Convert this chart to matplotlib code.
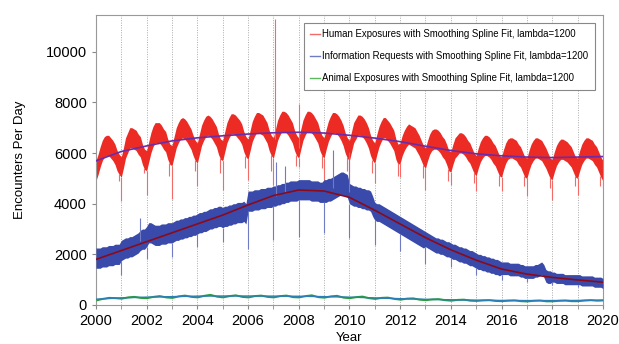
import numpy as np
import matplotlib.pyplot as plt

plt.rcParams['font.family'] = ['Liberation Sans', 'DejaVu Sans']

# Monthly mid-levels of daily encounters, one row per year (Jan..Dec), 2000-2019
human_mid = [
    [5300, 5550, 5850, 6100, 6250, 6300, 6300, 6200, 6100, 5950, 5700, 5550],
    [5450, 5800, 6200, 6400, 6600, 6600, 6550, 6500, 6350, 6250, 5950, 5750],
    [5700, 6050, 6400, 6650, 6800, 6800, 6800, 6700, 6550, 6450, 6150, 5950],
    [5900, 6250, 6600, 6800, 6950, 7000, 6950, 6850, 6700, 6550, 6300, 6100],
    [6000, 6350, 6700, 6900, 7050, 7100, 7050, 6950, 6800, 6650, 6350, 6150],
    [6100, 6450, 6800, 7000, 7150, 7150, 7100, 7000, 6900, 6750, 6450, 6250],
    [6150, 6500, 6850, 7050, 7200, 7200, 7150, 7100, 6950, 6800, 6500, 6300],
    [6200, 6550, 6900, 7100, 7250, 7250, 7200, 7100, 6950, 6800, 6500, 6300],
    [6200, 6550, 6900, 7100, 7250, 7250, 7200, 7100, 6950, 6800, 6500, 6300],
    [6200, 6550, 6850, 7050, 7200, 7200, 7150, 7050, 6900, 6700, 6400, 6200],
    [6100, 6450, 6800, 6950, 7100, 7100, 7050, 6950, 6800, 6600, 6300, 6100],
    [6000, 6350, 6650, 6850, 7000, 7000, 6900, 6800, 6650, 6500, 6150, 5950],
    [6000, 6300, 6500, 6650, 6750, 6700, 6650, 6600, 6450, 6300, 6100, 5900],
    [5800, 6100, 6350, 6500, 6550, 6550, 6500, 6400, 6250, 6150, 5950, 5700],
    [5650, 5950, 6200, 6300, 6400, 6400, 6350, 6250, 6100, 6000, 5800, 5600],
    [5500, 5800, 6050, 6200, 6300, 6300, 6250, 6150, 6000, 5900, 5700, 5500],
    [5450, 5750, 6000, 6150, 6200, 6200, 6150, 6100, 5950, 5850, 5650, 5450],
    [5400, 5700, 5950, 6100, 6200, 6200, 6150, 6100, 5950, 5800, 5600, 5400],
    [5350, 5650, 5900, 6050, 6150, 6150, 6100, 6050, 5950, 5850, 5650, 5450],
    [5400, 5700, 5950, 6100, 6200, 6200, 6150, 6100, 5950, 5850, 5650, 5450],
]
human_end = 5300

info_mid = [
    [1850, 1850, 1850, 1900, 1900, 1900, 1950, 1950, 1950, 2000, 2000, 2000],
    [2150, 2200, 2250, 2250, 2300, 2300, 2350, 2400, 2450, 2550, 2600, 2600],
    [2700, 2850, 2850, 2800, 2750, 2750, 2750, 2800, 2800, 2800, 2850, 2850],
    [2850, 2900, 2950, 2950, 3000, 3000, 3050, 3050, 3100, 3100, 3150, 3150],
    [3200, 3250, 3250, 3300, 3300, 3350, 3400, 3400, 3450, 3450, 3500, 3500],
    [3450, 3500, 3500, 3550, 3550, 3600, 3600, 3650, 3650, 3650, 3700, 3600],
    [4100, 4100, 4100, 4150, 4150, 4150, 4200, 4200, 4200, 4250, 4250, 4250],
    [4300, 4300, 4350, 4350, 4400, 4400, 4450, 4450, 4500, 4500, 4500, 4500],
    [4550, 4550, 4550, 4550, 4550, 4550, 4500, 4500, 4500, 4500, 4450, 4450],
    [4500, 4500, 4550, 4550, 4600, 4650, 4700, 4750, 4800, 4800, 4750, 4700],
    [4400, 4350, 4300, 4300, 4250, 4250, 4200, 4200, 4150, 4150, 4100, 3900],
    [3700, 3650, 3650, 3600, 3550, 3500, 3450, 3400, 3350, 3300, 3250, 3200],
    [3150, 3100, 3050, 3000, 2950, 2900, 2850, 2800, 2750, 2700, 2650, 2600],
    [2600, 2550, 2500, 2450, 2400, 2350, 2350, 2300, 2300, 2250, 2200, 2200],
    [2150, 2100, 2100, 2050, 2000, 2000, 1950, 1950, 1900, 1850, 1850, 1800],
    [1750, 1700, 1700, 1650, 1650, 1600, 1600, 1550, 1550, 1500, 1500, 1450],
    [1450, 1450, 1450, 1450, 1400, 1400, 1400, 1400, 1400, 1350, 1350, 1300],
    [1300, 1300, 1300, 1300, 1350, 1350, 1400, 1450, 1350, 1150, 1100, 1100],
    [1100, 1100, 1050, 1050, 1050, 1050, 1000, 1000, 1000, 1000, 1000, 1000],
    [1000, 1000, 950, 950, 950, 950, 950, 950, 900, 900, 900, 900],
]
info_end = 850

# Quarterly levels for animal exposures (Q1..Q4), 2000-2019
animal_mid = [
    [200, 260, 300, 290], [270, 320, 340, 300], [290, 340, 370, 320],
    [300, 360, 390, 340], [320, 380, 420, 350], [320, 370, 400, 340],
    [320, 370, 390, 340], [320, 370, 390, 330], [320, 370, 400, 330],
    [310, 360, 380, 310], [290, 330, 350, 290], [260, 300, 310, 260],
    [230, 270, 280, 230], [210, 240, 250, 210], [190, 220, 230, 190],
    [180, 200, 210, 180], [170, 190, 200, 170], [160, 185, 195, 165],
    [165, 185, 195, 170], [170, 195, 210, 190],
]
animal_end = 200

# Day-to-day spread around the monthly level
human_spread = 400
info_spread = [400, 400, 400, 400, 400, 400, 400, 400, 400, 450,
               400, 350, 350, 300, 300, 300, 250, 250, 200, 200]
animal_spread = 40

# Smoothing spline fits, evaluated at the start of each year 2000-2020
spline_years = np.arange(2000, 2021)
human_fit = [5690, 6060, 6280, 6480, 6600, 6680, 6750, 6800, 6820, 6790, 6700,
             6590, 6450, 6270, 6100, 5970, 5890, 5840, 5820, 5840, 5860]
info_fit = [1800, 2150, 2500, 2850, 3200, 3550, 3950, 4320, 4540, 4500, 4250,
            3740, 3200, 2660, 2180, 1770, 1420, 1220, 1090, 990, 900]
animal_fit = [230, 280, 310, 330, 350, 355, 355, 350, 345, 330, 310,
              280, 250, 225, 205, 190, 180, 175, 175, 180, 190]

# New Year's Day drops, 2001-2020
dip_years = np.arange(2001, 2021)
human_dips = [4100, 4350, 4200, 4700, 4550, 4950, 4750, 5450, 4950, 4800,
              4800, 5050, 4550, 4750, 4500, 4500, 4300, 4150, 4350, 4600]
info_dips = [1200, 1800, 1900, 2300, 2500, 2200, 2550, 2700, 2850, 2650,
             2350, 2150, 1600, 1500, 1200, 1000, 900, 800, 700, 650]

# Late-November drops, 2000-2019
holiday_x = np.arange(2000, 2020) + 0.9
human_holiday = [4900, 5200, 5100, 5300, 5200, 5400, 5300, 5500, 5400, 5300,
                 5200, 5100, 5000, 4900, 4800, 4700, 4700, 4600, 4700, 4700]

# Isolated high days
human_peak_x = [2007.08, 2008.0]
human_peak_y = [11300, 7950]
info_peak_x = [2001.74, 2007.1, 2007.45, 2009.35, 2009.98]
info_peak_y = [3450, 5650, 5500, 6100, 6050]

human_color = '#ec2b24'
info_color = '#3a4aaa'
animal_color = '#2a9a3c'

human = np.append(np.ravel(human_mid), human_end)
info = np.append(np.ravel(info_mid), info_end)
animal = np.append(np.ravel(animal_mid), animal_end)
t_month = 2000 + np.arange(len(human)) / 12
t_quarter = 2000 + np.arange(len(animal)) / 4
info_sp = np.append(np.repeat(info_spread, 12), info_spread[-1])

fig = plt.figure(figsize=(6.19, 3.44), dpi=100)
ax = fig.add_axes([0.155, 0.1134, 0.819, 0.843])

# year grid
for yr in range(2001, 2020):
    ax.axvline(yr, color='#aaaaaa', linestyle=(0, (1, 1.5)), linewidth=0.7, zorder=0)

# human exposures
ax.fill_between(t_month, human - human_spread, human + human_spread,
                color=human_color, linewidth=0, zorder=2)
ax.vlines(dip_years, human_dips, human[12::12] - human_spread,
          color='#f26b66', linewidth=0.8, zorder=2)
ax.vlines(holiday_x, human_holiday, np.interp(holiday_x, t_month, human) - human_spread,
          color='#f26b66', linewidth=0.8, zorder=2)
ax.vlines(human_peak_x, np.interp(human_peak_x, t_month, human), human_peak_y,
          color='#f26b66', linewidth=0.8, zorder=2)

# information requests
ax.fill_between(t_month, info - info_sp, info + info_sp,
                color=info_color, linewidth=0, zorder=3)
ax.vlines(dip_years, info_dips, info[12::12] - info_sp[12::12],
          color='#6f7cc4', linewidth=0.8, zorder=3)
ax.vlines(info_peak_x, np.interp(info_peak_x, t_month, info), info_peak_y,
          color='#6f7cc4', linewidth=0.8, zorder=3)

# animal exposures
ax.fill_between(t_quarter, animal - animal_spread, animal + animal_spread,
                color=animal_color, linewidth=0, zorder=3)

# spline fits
ax.plot(spline_years, human_fit, color='#6a2ca8', linewidth=1.2, zorder=4)
ax.plot(spline_years, info_fit, color='#8b0a1a', linewidth=1.2, zorder=4)
ax.plot(spline_years, animal_fit, color='#2a7fb8', linewidth=1.0, zorder=4)

ax.set_xlim(2000, 2020)
ax.set_ylim(0, 11450)
ax.set_xticks(range(2000, 2021, 2))
ax.set_xticks(range(2000, 2021), minor=True)
ax.set_yticks(range(0, 10001, 2000))
ax.tick_params(axis='both', labelsize=10.5, length=3, color='#888888', direction='out')
ax.tick_params(axis='x', which='minor', length=3, color='#888888')
for s in ax.spines.values():
    s.set_color('#999999')
ax.set_xlabel('Year', fontsize=9.5, labelpad=3)
ax.set_ylabel('Encounters Per Day', fontsize=9.5, labelpad=14)

handles = [plt.Line2D([], [], color='#f26b66', linewidth=1),
           plt.Line2D([], [], color='#6f7cc4', linewidth=1),
           plt.Line2D([], [], color='#5cb85c', linewidth=1)]
labels = ['Human Exposures with Smoothing Spline Fit, lambda=1200',
          'Information Requests with Smoothing Spline Fit, lambda=1200',
          'Animal Exposures with Smoothing Spline Fit, lambda=1200']
leg = ax.legend(handles, labels, loc='upper right', fontsize=6.9, handlelength=1.0,
                handletextpad=0.2, labelspacing=1.25, borderpad=0.7,
                fancybox=False, framealpha=1, edgecolor='#888888',
                bbox_to_anchor=(0.993, 0.99))
leg.get_frame().set_linewidth(0.8)

fig.savefig('out.png', dpi=100)
